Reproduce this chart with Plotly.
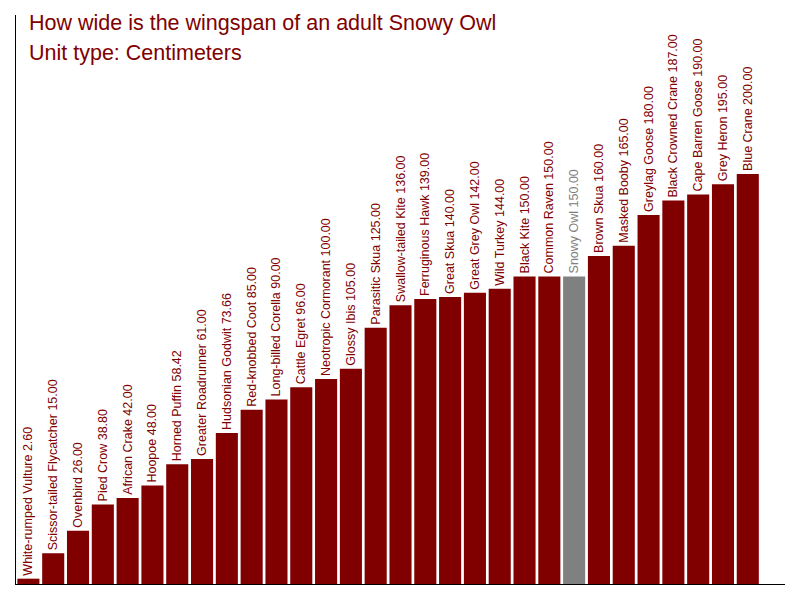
import plotly.graph_objects as go

birds = ["White-rumped Vulture", "Scissor-tailed Flycatcher", "Ovenbird", "Pied Crow", "African Crake",
         "Hoopoe", "Horned Puffin", "Greater Roadrunner", "Hudsonian Godwit", "Red-knobbed Coot",
         "Long-billed Corella", "Cattle Egret", "Neotropic Cormorant", "Glossy Ibis", "Parasitic Skua",
         "Swallow-tailed Kite", "Ferruginous Hawk", "Great Skua", "Great Grey Owl", "Wild Turkey",
         "Black Kite", "Common Raven", "Snowy Owl", "Brown Skua", "Masked Booby",
         "Greylag Goose", "Black Crowned Crane", "Cape Barren Goose", "Grey Heron", "Blue Crane"]
wingspan_cm = [2.60, 15.00, 26.00, 38.80, 42.00,
               48.00, 58.42, 61.00, 73.66, 85.00,
               90.00, 96.00, 100.00, 105.00, 125.00,
               136.00, 139.00, 140.00, 142.00, 144.00,
               150.00, 150.00, 150.00, 160.00, 165.00,
               180.00, 187.00, 190.00, 195.00, 200.00]
highlight = "Snowy Owl"

RED = "#800000"
GRAY = "#808080"
colors = [GRAY if b == highlight else RED for b in birds]
labels = [f"{b} {v:.2f}" for b, v in zip(birds, wingspan_cm)]

# page body has 8px offset; plot area in the page: x 16..785, y 15..584
OFF = 8
L, R, T, B = 16 - OFF, 785 - OFF, 15 - OFF, 584 - OFF
W, H = 800, 600

fig = go.Figure(go.Bar(
    x=list(range(len(birds))), y=wingspan_cm,
    marker=dict(color=colors, line=dict(width=0)),
    text=labels, textposition="outside", textangle=-90,
    textfont=dict(family="Liberation Sans, Arial", size=12.5, color=colors),
    cliponaxis=False, constraintext="none",
    hovertext=birds,
))

fig.update_layout(
    width=W, height=H,
    margin=dict(l=L, r=W - R, t=T, b=H - B),
    paper_bgcolor="white", plot_bgcolor="white",
    showlegend=False, bargap=0.11,
    xaxis=dict(range=[-0.5, len(birds) + 0.5], showline=True, linecolor="black", linewidth=1,
               showticklabels=False, ticks="", showgrid=False, zeroline=False),
    yaxis=dict(range=[0, 277.5], showline=True, linecolor="black", linewidth=1,
               showticklabels=False, ticks="", showgrid=False, zeroline=False),
    annotations=[
        dict(text="How wide is the wingspan of an adult Snowy Owl", xref="paper", yref="paper",
             x=(27 - 16) / (R - L), y=1 - (23 - 15) / (B - T), xanchor="left", yanchor="middle",
             showarrow=False, font=dict(family="Liberation Sans, Arial", size=21.5, color=RED)),
        dict(text="Unit type: Centimeters", xref="paper", yref="paper",
             x=(27 - 16) / (R - L), y=1 - (53 - 15) / (B - T), xanchor="left", yanchor="middle",
             showarrow=False, font=dict(family="Liberation Sans, Arial", size=21.5, color=RED)),
    ],
)

fig.write_html("out.html")
